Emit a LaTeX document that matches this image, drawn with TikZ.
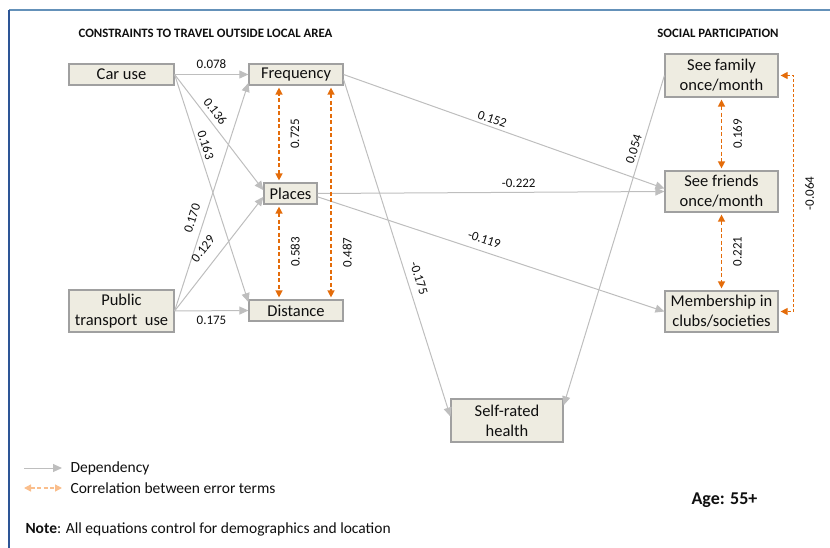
\documentclass[tikz,border=0pt]{standalone}
\usepackage{fontspec}
\setmainfont{Carlito}
\usepackage{xcolor}
\usetikzlibrary{arrows.meta}
\definecolor{boxfill}{RGB}{238,236,225}
\definecolor{boxline}{RGB}{160,160,160}
\definecolor{depgray}{RGB}{190,190,190}
\definecolor{corrorange}{RGB}{228,108,10}
\definecolor{corrpeach}{RGB}{250,190,140}
\definecolor{frametop}{RGB}{100,145,185}
\definecolor{frameleft}{RGB}{45,85,150}
\definecolor{txt}{RGB}{15,15,15}

\begin{document}
\begin{tikzpicture}[x=1pt, y=-1pt,
  varbox/.style={draw=boxline, line width=1.2pt, fill=boxfill, inner sep=0pt, align=center,
    text=txt, font=\fontsize{16.5}{20}\selectfont},
  dep/.style={draw=depgray, line width=1pt, -{Triangle[length=9pt,width=8pt]}},
  corr/.style={draw=corrorange, line width=1.4pt, dash pattern=on 4pt off 2.5pt,
    {Triangle[length=7pt,width=7pt]}-{Triangle[length=7pt,width=7pt]}, shorten <=2pt, shorten >=2pt},
  lbl/.style={inner sep=1pt, text=txt, font=\fontsize{13}{15}\selectfont},
  vlbl/.style={lbl, rotate=90, below=10pt, midway},
  heading/.style={text=txt, font=\bfseries\fontsize{12.8}{15}\selectfont}]
\useasboundingbox (0,0) rectangle (830,548);
\draw[frametop, line width=2pt] (9,10) -- (830,10);
\draw[frameleft, line width=2pt] (9,10) -- (9,548);

\node[heading] (hdleft) at (205.5,33) {CONSTRAINTS TO TRAVEL OUTSIDE LOCAL AREA};
\node[heading] (hdright) at (718,33) {SOCIAL PARTICIPATION};

% constraints
\node[varbox, minimum width=105pt, minimum height=21pt] (car) at (121.5,74.5) {Car use};
\node[varbox, minimum width=105pt, minimum height=42pt] (pubtr) at (121.5,311) {Public\\transport~~use};
\node[varbox, minimum width=94pt, minimum height=21pt] (freq) at (296,74.5) {Frequency};
\node[varbox, minimum width=53pt, minimum height=21pt] (places) at (290.5,193.5) {Places};
\node[varbox, minimum width=94pt, minimum height=21pt] (dist) at (296,310.5) {Distance};
\node[varbox, minimum width=112pt, minimum height=43pt] (health) at (507,420.5) {Self-rated\\health};

% social participation
\node[varbox, minimum width=113pt, minimum height=43pt] (family) at (721.5,75.5) {See family\\once/month};
\node[varbox, minimum width=113pt, minimum height=41pt] (friends) at (721.5,191.5) {See friends\\once/month};
\node[varbox, minimum width=113pt, minimum height=41pt] (member) at (721.5,311.5) {Membership in\\clubs/societies};

% dependencies
\draw[dep] (car.east) -- (freq.west) node[lbl, midway, above=4pt] {0.078};
\draw[dep] (car.east) -- (places.173) node[lbl, sloped, pos=0.37, above=4pt] {0.136};
\draw[dep] (car.east) -- (dist.170) node[lbl, sloped, pos=0.32, above=2pt] {0.163};
\draw[dep] (pubtr.east) -- (freq.190) node[lbl, sloped, pos=0.39, above=6pt] {0.170};
\draw[dep] (pubtr.east) -- (places.187) node[lbl, sloped, pos=0.46, above=10pt] {0.129};
\draw[dep] (pubtr.east) -- (dist.west) node[lbl, midway, below=4pt] {0.175};
\draw[dep] (freq.east) -- (friends.177) node[lbl, sloped, pos=0.455, above=2pt] {0.152};
\draw[dep] (freq.-6) -- (health.176) node[lbl, sloped, pos=0.6, above=6pt] {-0.175};
\draw[dep] (places.east) -- (friends.west) node[lbl, sloped, pos=0.58, above=3pt] {-0.222};
\draw[dep] (places.-7) -- (member.west) node[lbl, sloped, pos=0.47, above=6pt] {-0.119};
\draw[dep] (family.west) -- (health.15) node[lbl, sloped, pos=0.23, above=2pt] {0.054};

% error correlations
\draw[corr] ([xshift=-11.5pt]places.north) -- ([xshift=-11.5pt]places.north |- freq.south) node[vlbl] {0.725};
\draw[corr] ([xshift=-11.5pt]places.south) -- ([xshift=-11.5pt]places.south |- dist.north) node[vlbl] {0.583};
\draw[corr] ([xshift=35pt]freq.south) -- ([xshift=35pt]dist.north) node[vlbl, pos=0.78] {0.487};
\draw[corr] (family.south) -- (friends.north) node[vlbl] {0.169};
\draw[corr] (friends.south) -- (member.north) node[vlbl] {0.221};
\draw[corr, line width=1.2pt, dash pattern=on 3pt off 2pt] (family.east) -- ++(15,0) |- (member.east)
  node[vlbl, pos=0.25] {-0.064};

% legend
\coordinate (depa) at (24,468);
\coordinate (depb) at (62,468);
\coordinate (corra) at (24,488);
\coordinate (corrb) at (62,488);
\draw[dep] (depa) -- (depb);
\draw[corr, draw=corrpeach, shorten <=0pt, shorten >=0pt] (corra) -- (corrb);
\node[anchor=west, text=txt, font=\fontsize{15.5}{18}\selectfont] (deptxt) at (67,468) {Dependency};
\node[anchor=west, text=txt, font=\fontsize{15.5}{18}\selectfont] (corrtxt) at (67,488) {Correlation between error terms};
\node[anchor=west, text=txt, font=\fontsize{15.5}{18}\selectfont] (note) at (22,529) {\textbf{Note}: All equations control for demographics and location};
\node[text=txt, font=\bfseries\fontsize{18}{20}\selectfont] (age) at (724.5,500.5) {Age: 55+};
\end{tikzpicture}
\end{document}
